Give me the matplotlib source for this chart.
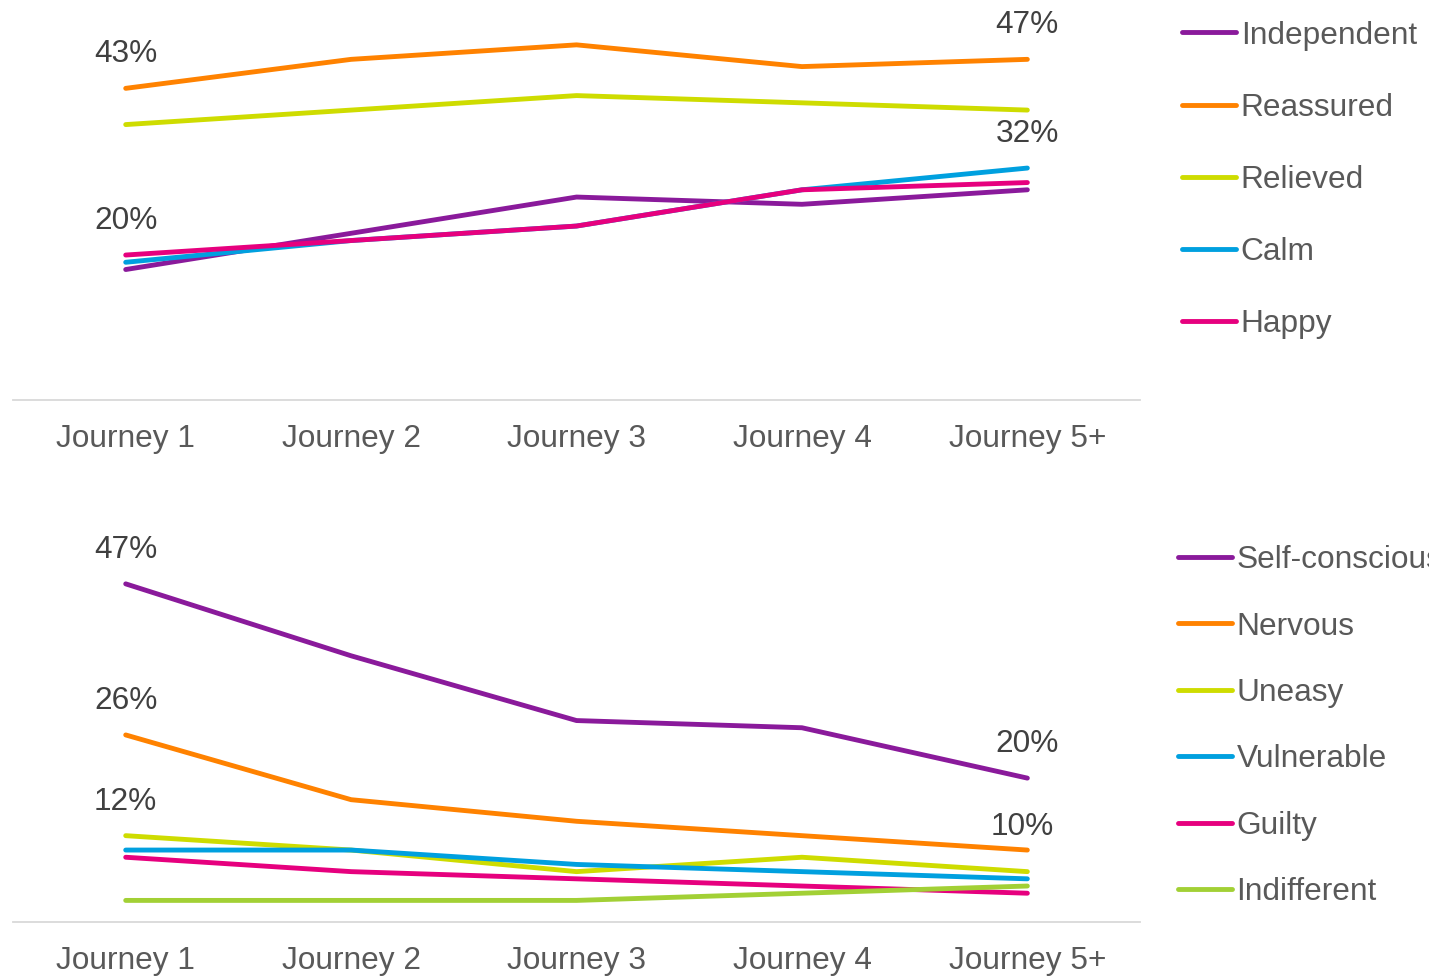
import matplotlib
matplotlib.use("Agg")
import matplotlib.pyplot as plt

plt.rcParams['font.family'] = ['Liberation Sans', 'DejaVu Sans']

# ---------------------- data ----------------------
journeys = ["Journey 1", "Journey 2", "Journey 3", "Journey 4", "Journey 5+"]

# positive feelings (%)
independent = [18, 23, 28, 27, 29]
reassured = [43, 47, 49, 46, 47]
relieved = [38, 40, 42, 41, 40]
calm = [19, 22, 24, 29, 32]
happy = [20, 22, 24, 29, 30]

# negative feelings (%)
self_conscious = [47, 37, 28, 27, 20]
nervous = [26, 17, 14, 12, 10]
uneasy = [12, 10, 7, 9, 7]
vulnerable = [10, 10, 8, 7, 6]
guilty = [9, 7, 6, 5, 4]
indifferent = [3, 3, 3, 4, 5]

top_series = [("Independent", independent), ("Reassured", reassured),
              ("Relieved", relieved), ("Calm", calm), ("Happy", happy)]
bottom_series = [("Self-conscious", self_conscious), ("Nervous", nervous),
                 ("Uneasy", uneasy), ("Vulnerable", vulnerable),
                 ("Guilty", guilty), ("Indifferent", indifferent)]

# which points get a value label: (series, journey index)
top_labels = [("Reassured", 0), ("Happy", 0), ("Reassured", 4), ("Calm", 4)]
bottom_labels = [("Self-conscious", 0), ("Nervous", 0), ("Uneasy", 0),
                 ("Self-conscious", 4), ("Nervous", 4)]

top_colors = ["#8A1A9B", "#FF8200", "#CEDC00", "#00A0DF", "#E6007E"]
bottom_colors = ["#8A1A9B", "#FF8200", "#CEDC00", "#00A0DF", "#E6007E", "#A2D035"]

# ---------------------- figure ----------------------
fig = plt.figure(figsize=(14.29, 9.77), dpi=100)
ax1 = fig.add_axes([0.0091, 0.5906, 0.7887, 0.408])
ax2 = fig.add_axes([0.0091, 0.0563, 0.7887, 0.405])

x = list(range(len(journeys)))
FS = 22.8


def draw_panel(ax, series, colors, labels):
    lookup = dict(series)
    for (name, vals), c in zip(series, colors):
        ax.plot(x, vals, color=c, lw=3.5, solid_capstyle='round',
                solid_joinstyle='round', label=name)
    for name, i in labels:
        v = lookup[name][i]
        dx, dy = 0, 24.5
        if name == "Nervous" and i == 4:
            dx, dy = -4, 16.5
        ax.annotate(f"{v}%", (x[i], v), xytext=(dx, dy),
                    textcoords='offset points', ha='center', va='center',
                    fontsize=FS, color='#404040')
    ax.set_xlim(-0.5, 4.5)
    ax.set_ylim(0, 55)
    ax.set_xticks(x)
    ax.set_xticklabels(journeys, fontsize=FS, color='#595959')
    ax.tick_params(axis='x', length=0, pad=17)
    ax.set_yticks([])
    for s in ['top', 'right', 'left']:
        ax.spines[s].set_visible(False)
    ax.spines['bottom'].set_color('#D9D9D9')
    ax.spines['bottom'].set_linewidth(1.3)


draw_panel(ax1, top_series, top_colors, top_labels)
draw_panel(ax2, bottom_series, bottom_colors, bottom_labels)

leg1 = fig.legend(*ax1.get_legend_handles_labels(), loc='upper left',
                  bbox_to_anchor=(0.8272, 0.979), frameon=False,
                  fontsize=FS, handlelength=1.7, handletextpad=0.15,
                  labelspacing=1.33, borderpad=0, borderaxespad=0)
leg2 = fig.legend(*ax2.get_legend_handles_labels(), loc='upper left',
                  bbox_to_anchor=(0.8243, 0.442), frameon=False,
                  fontsize=FS, handlelength=1.7, handletextpad=0.15,
                  labelspacing=1.15, borderpad=0, borderaxespad=0)
for leg in (leg1, leg2):
    for t in leg.get_texts():
        t.set_color('#595959')

fig.savefig("out.png", dpi=100)
